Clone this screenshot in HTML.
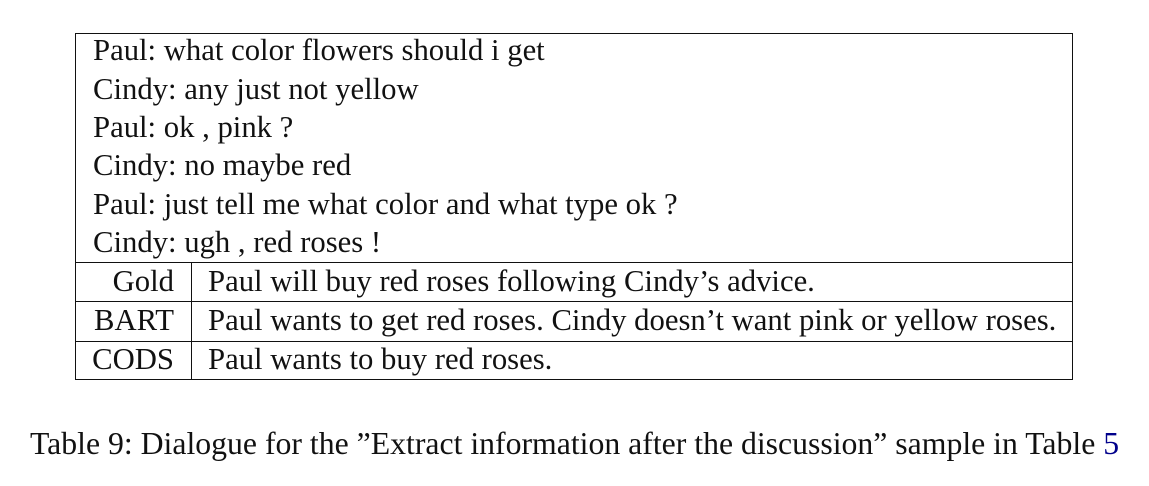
<!DOCTYPE html>
<html><head><style>
body{margin:0;width:1149px;height:486px;background:#fff;position:relative;font-family:"Liberation Serif",serif;font-size:30.7px;color:#111;overflow:hidden}
.t{position:absolute;white-space:nowrap;line-height:1}
.r{position:absolute;white-space:nowrap;line-height:1;right:975px}
.h{position:absolute;height:1.3px;background:#111}
.v{position:absolute;width:1.3px;background:#111}
</style></head><body>
<div class="h" style="left:75px;top:33px;width:998px"></div>
<div class="h" style="left:75px;top:262px;width:998px"></div>
<div class="h" style="left:75px;top:301px;width:998px"></div>
<div class="h" style="left:75px;top:341px;width:998px"></div>
<div class="h" style="left:75px;top:379px;width:998px"></div>
<div class="v" style="left:75px;top:33px;height:347px"></div>
<div class="v" style="left:1072px;top:33px;height:347px"></div>
<div class="v" style="left:191px;top:262px;height:118px"></div>
<div class="t" style="left:93px;top:35px">Paul: what color flowers should i get</div>
<div class="t" style="left:93px;top:74px">Cindy: any just not yellow</div>
<div class="t" style="left:93px;top:112px">Paul: ok , pink ?</div>
<div class="t" style="left:93px;top:150px">Cindy: no maybe red</div>
<div class="t" style="left:93px;top:189px">Paul: just tell me what color and what type ok ?</div>
<div class="t" style="left:93px;top:227px">Cindy: ugh , red roses !</div>
<div class="r" style="top:266px">Gold</div>
<div class="t" style="left:208px;top:266px">Paul will buy red roses following Cindy’s advice.</div>
<div class="r" style="top:305px">BART</div>
<div class="t" style="left:208px;top:305px">Paul wants to get red roses. Cindy doesn’t want pink or yellow roses.</div>
<div class="r" style="top:344px">CODS</div>
<div class="t" style="left:208px;top:344px">Paul wants to buy red roses.</div>
<div class="t" style="left:30px;top:428px;font-size:31.75px">Table 9: Dialogue for the ”Extract information after the discussion” sample in Table <span style="color:#00008b">5</span></div>
</body></html>
